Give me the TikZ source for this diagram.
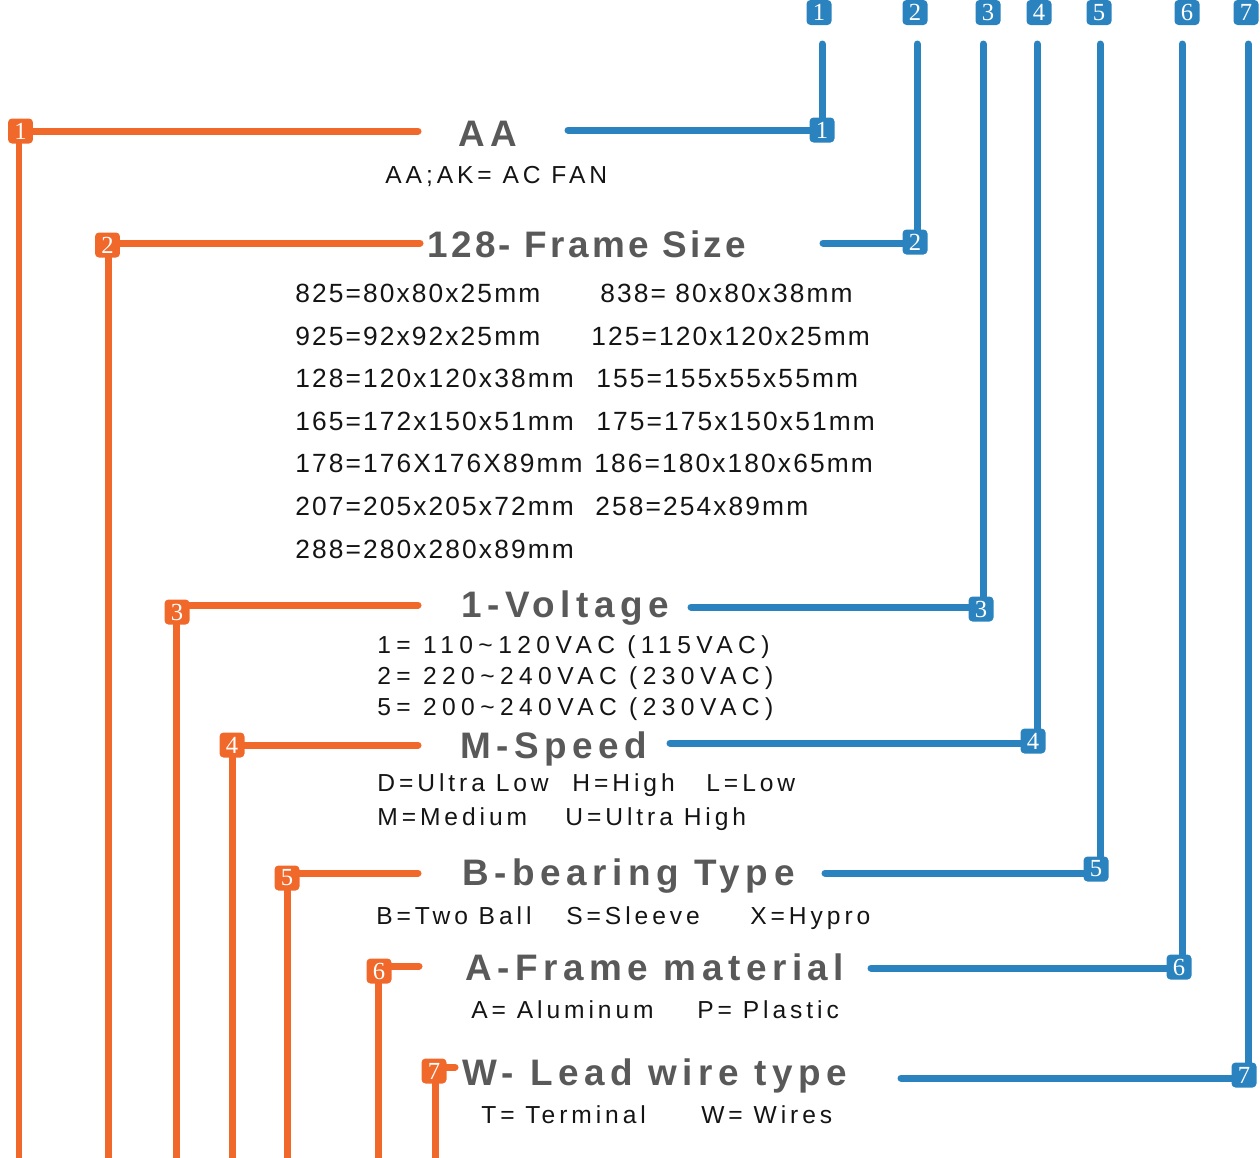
\documentclass[tikz,border=0pt]{standalone}
\usepackage{fontspec}
\setmainfont{Liberation Sans}
\newfontfamily\headfont[LetterSpace=15]{Liberation Sans}
\newfontfamily\headtightfont[LetterSpace=9]{Liberation Sans}
\newfontfamily\bodyfont[LetterSpace=16]{Liberation Sans}
\newfontfamily\voltfont[LetterSpace=22]{Liberation Sans}
\newfontfamily\tablefont[LetterSpace=8]{Liberation Sans}
\newfontfamily\numfont{Liberation Serif}
\definecolor{orng}{HTML}{F0682A}
\definecolor{blu}{HTML}{2A83BE}
\definecolor{headgray}{HTML}{595959}
\definecolor{txt}{HTML}{141414}

\tikzset{
    badge/.style={text=white, inner sep=0pt, minimum size=0.5cm, rounded corners=0.08cm,
        font=\numfont\fontsize{14}{14}\selectfont},
    obadge/.style={badge, fill=orng},
    bbadge/.style={badge, fill=blu},
    oline/.style={orng, line width=0.14cm, line cap=round, line join=round},
    bline/.style={blu, line width=0.14cm, line cap=round, line join=round},
    head/.style={anchor=base west, inner sep=0pt, text=headgray,
        font=\headfont\bfseries\fontsize{21}{25}\selectfont},
    body/.style={anchor=base west, inner sep=0pt, text=txt,
        font=\bodyfont\fontsize{14}{17}\selectfont},
    volt/.style={body, font=\voltfont\fontsize{14}{17}\selectfont},
    tab/.style={anchor=base west, inner sep=0pt, text=txt,
        font=\tablefont\fontsize{15}{18}\selectfont}
}

\begin{document}
\begin{tikzpicture}[x=0.02cm, y=-0.02cm]
    \useasboundingbox (0,0) rectangle (1260,1157);

    % headings
    \node[head] (hAA) at (458,146) {AA};
    \node[head, font=\headtightfont\bfseries\fontsize{21}{25}\selectfont] (hSize) at (427,257) {128- Frame Size};
    \node[head] (hVolt) at (461,617) {1-Voltage};
    \node[head] (hSpeed) at (460,758) {M-Speed};
    \node[head] (hBear) at (462,885) {B-bearing Type};
    \node[head] (hMat) at (465,980) {A-Frame material};
    \node[head] (hWire) at (462,1085) {W- Lead wire type};

    % descriptions
    \node[body] (dAA) at (385,183) {AA;AK= AC FAN};

    \foreach \i/\y/\a/\xb/\b in {1/302/825=80x80x25mm/600/838= 80x80x38mm,
            2/345/925=92x92x25mm/591/125=120x120x25mm,
            3/387/128=120x120x38mm/596/155=155x55x55mm,
            4/430/165=172x150x51mm/596/175=175x150x51mm,
            5/472/178=176X176X89mm/594/186=180x180x65mm,
            6/515/207=205x205x72mm/595/258=254x89mm} {
        \node[tab] (sa\i) at (295,\y) {\a};
        \node[tab] (sb\i) at (\xb,\y) {\b};
    }
    \node[tab] (sa7) at (295,558) {288=280x280x89mm};

    \node[volt] (v1) at (377,653) {1= 110\textasciitilde120VAC (115VAC)};
    \node[volt] (v2) at (377,684) {2= 220\textasciitilde240VAC (230VAC)};
    \node[volt] (v3) at (377,715) {5= 200\textasciitilde240VAC (230VAC)};

    \node[body] (spD) at (377,791) {D=Ultra Low};
    \node[body] (spH) at (572,791) {H=High};
    \node[body] (spL) at (706,791) {L=Low};
    \node[body] (spM) at (377,825) {M=Medium};
    \node[body] (spU) at (565,825) {U=Ultra High};

    \node[body] (brB) at (376,924) {B=Two Ball};
    \node[body] (brS) at (566,924) {S=Sleeve};
    \node[body] (brX) at (750,924) {X=Hypro};

    \node[body] (mtA) at (471,1018) {A= Aluminum};
    \node[body] (mtP) at (697,1018) {P= Plastic};

    \node[body] (wrT) at (481,1123) {T= Terminal};
    \node[body] (wrW) at (701,1123) {W= Wires};

    % orange side
    \foreach \n/\xb/\yb/\yl/\xe/\xv in {1/20.5/131/131/418/19, 2/107.5/245/243/420/108,
            3/177/612/605/418/176, 4/232/745/745/418/232, 5/287/878/873/418/287,
            6/379/971/966/419/378, 7/434/1071/1067/455/435} {
        \coordinate (oe\n) at (\xe,\yl);
        \coordinate (ov\n) at (\xv,1162);
        \draw[oline] (ov\n) |- (oe\n);
        \node[obadge] (o\n) at (\xb,\yb) {\n};
    }

    % blue side
    \foreach \n/\xt/\xl/\yl/\xb/\yb/\xe in {1/819/822/130/822/130/568, 2/915/917/243/915/242/823,
            3/988/983/607/981/609/691, 4/1039/1037/743/1033/741/670, 5/1099/1100/873/1096/869/825,
            6/1187/1182/968/1179/967/871, 7/1246/1248/1078/1244/1075/901} {
        \node[bbadge] (t\n) at (\xt,12.5) {\n};
        \coordinate (bs\n) at (\xl,44);
        \coordinate (be\n) at (\xe,\yl);
        \draw[bline] (bs\n) |- (be\n);
        \node[bbadge] (b\n) at (\xb,\yb) {\n};
    }
\end{tikzpicture}
\end{document}
